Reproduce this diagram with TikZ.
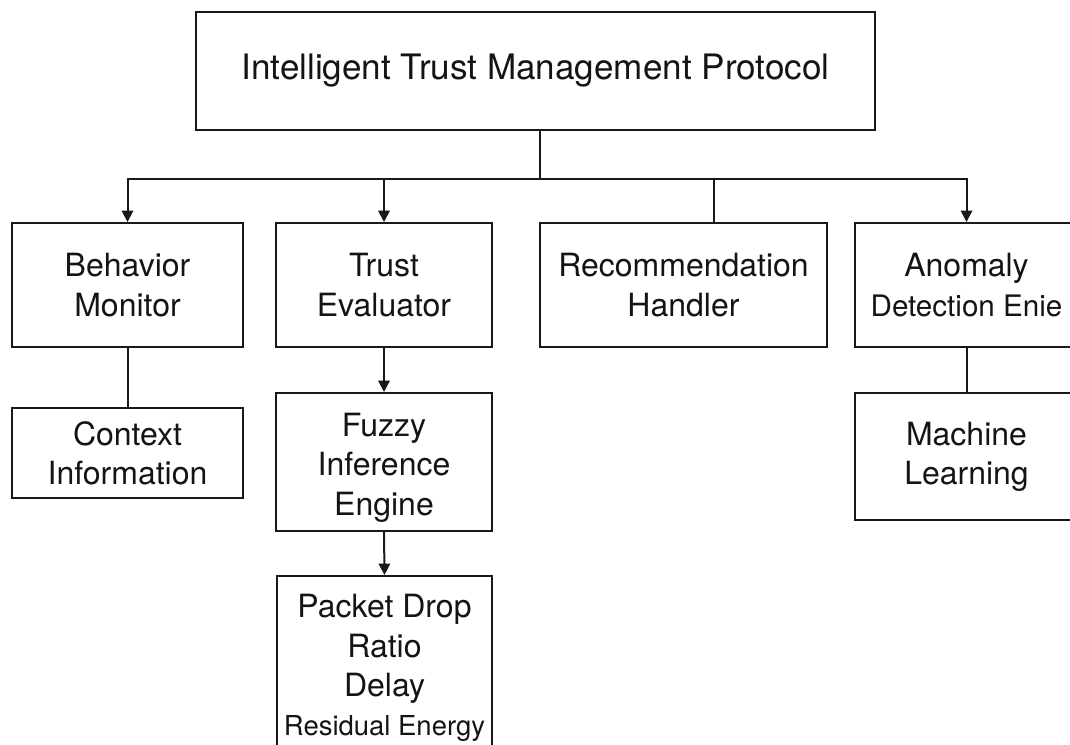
\documentclass[tikz,border=0pt]{standalone}
\usepackage{fontspec}
\setmainfont{TeX Gyre Heros}
\usetikzlibrary{arrows.meta}
\begin{document}
\begin{tikzpicture}[x=0.75pt,y=-0.75pt,
  box/.style={draw=black!90,line width=1.5pt,inner sep=0pt,align=center,
    font=\fontsize{24}{29.5}\selectfont,text=black!92},
  conn/.style={draw=black!90,line width=1.5pt},
  arr/.style={conn,-{Triangle[length=8.5pt,width=8.5pt]}}]
\useasboundingbox (0,0) rectangle (1070,744);
\clip (0,0) rectangle (1070,744);
\fill[white] (0,0) rectangle (1070,744);
% top
\node[box,minimum width=509.25pt,minimum height=88.5pt,
  font=\fontsize{26.3}{30}\selectfont] (title) at (535.5,71)
  {Intelligent Trust Management Protocol};
% second row
\node[box,minimum width=173.25pt,minimum height=93pt] (behav) at (127.5,285)
  {Behavior\\Monitor};
\node[box,minimum width=162pt,minimum height=93pt] (trust) at (384,285)
  {Trust\\Evaluator};
\node[box,minimum width=215.25pt,minimum height=93pt] (recom) at (683.5,285)
  {Recommendation\\Handler};
\node[box,minimum width=167.25pt,minimum height=93pt] (anom) at (966.5,285)
  {Anomaly\\{\fontsize{22.2}{29.5}\selectfont Detection Enie}};
% third row
\node[box,minimum width=173.25pt,minimum height=67.5pt] (context) at (127.5,453)
  {Context\\Information};
\node[box,minimum width=162pt,minimum height=103.5pt] (fuzzy) at (384,462)
  {\rule{0pt}{26pt}Fuzzy\\Inference\\Engine};
\node[box,minimum width=167.25pt,minimum height=95.25pt] (machine) at (966.5,456.5)
  {Machine\\Learning};
% fourth row
\node[box,minimum width=161.25pt,minimum height=138pt] (packet) at (384.5,668)
  {Packet Drop\\Ratio\\Delay\\{\fontsize{20.6}{28.5}\selectfont Residual Energy}};
% connectors
\coordinate (stem) at (540,179);
\coordinate (rj) at (714,179);
\draw[conn] (title.south -| stem) -- (stem);
\draw[arr] (stem) -| (behav.north);
\draw[arr] (stem) -| (anom.north);
\draw[arr] (trust.north |- stem) -- (trust.north);
\draw[conn] (rj) -- (rj |- recom.north);
\draw[conn] (behav.south) -- (context.north);
\draw[arr] (trust.south) -- (fuzzy.north);
\draw[arr] (fuzzy.south) -- (packet.north);
\draw[conn] (anom.south) -- (machine.north);
\end{tikzpicture}
\end{document}
